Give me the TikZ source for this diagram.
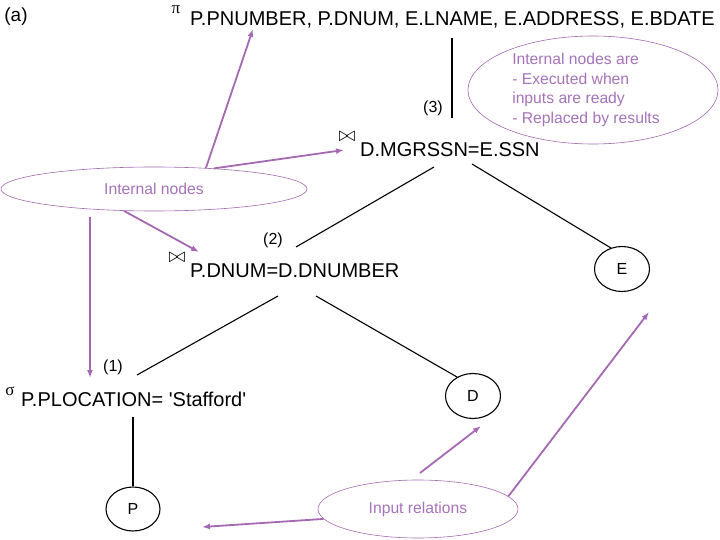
\documentclass[tikz,border=0pt]{standalone}
\usepackage{fontspec}
\setmainfont{Liberation Sans}
\newfontfamily\symfont{Liberation Serif}
\usetikzlibrary{arrows.meta,shapes.geometric}
\definecolor{vio}{RGB}{165,105,180}
\definecolor{viot}{RGB}{165,115,185}
\begin{document}
\begin{tikzpicture}[x=1pt,y=-1pt,
  optext/.style={font=\fontsize{20}{24}\selectfont, inner sep=0pt, anchor=west},
  opsym/.style={font=\symfont\fontsize{17}{20}\selectfont, inner sep=0pt},
  joinsym/.style={font=\fontsize{21}{24}\selectfont, inner sep=0pt},
  numlbl/.style={font=\fontsize{16}{18}\selectfont, inner sep=0pt},
  rel/.style={draw, ellipse, minimum width=55pt, minimum height=45pt, inner sep=0pt, line width=1.1pt, font=\fontsize{16}{18}\selectfont},
  note/.style={draw=vio, ellipse, line width=0.6pt, text=viot, inner sep=0pt, font=\fontsize{15.7}{19.5}\selectfont},
  tree/.style={line width=1.1pt},
  callout/.style={draw=vio, line width=1.8pt, -{Latex[length=8pt,width=6pt]}},
]
\path[use as bounding box] (0,0) rectangle (720,540);

% headings and operators
\node[font=\fontsize{19}{22}\selectfont, inner sep=0pt] (lbla) at (16,17) {(a)};
\node[opsym] (pisym) at (176,10) {π};
\node[optext] (proj) at (190,20) {P.PNUMBER, P.DNUM, E.LNAME, E.ADDRESS, E.BDATE};
\node[numlbl] (n3) at (433,108) {(3)};
\node[joinsym] (j1sym) at (347,137) {$\bowtie$};
\node[optext] (join1) at (360,150) {D.MGRSSN=E.SSN};
\node[numlbl] (n2) at (273,240) {(2)};
\node[joinsym] (j2sym) at (177,258) {$\bowtie$};
\node[optext] (join2) at (190,271) {P.DNUM=D.DNUMBER};
\node[numlbl] (n1) at (113,367) {(1)};
\node[opsym] (sgsym) at (10,391) {σ};
\node[optext] (sel) at (21,399) {P.PLOCATION= \textquotesingle Stafford\textquotesingle};

% relations
\node[rel] (E) at (622,269) {E};
\node[rel] (D) at (473,396) {D};
\node[rel, minimum width=54pt, minimum height=44pt] (P) at (133,509) {P};

% tree edges
\coordinate (t3a) at (452,38);
\coordinate (t3b) at (452,118);
\coordinate (j1l) at (434,167);
\coordinate (j1r) at (472,164);
\coordinate (j2top) at (296,247);
\coordinate (j2l) at (278,296);
\coordinate (j2r) at (316,296);
\coordinate (seltop) at (137,375);
\coordinate (selbot) at (133,417);
\draw[tree] (t3a) -- (t3b);
\draw[tree] (j1l) -- (j2top);
\draw[tree] (j1r) -- (E.118);
\draw[tree] (j2l) -- (seltop);
\draw[tree] (j2r) -- (D.130);
\draw[tree] (selbot) -- (P.north);

% notes
\node[note, minimum width=306pt, minimum height=44pt] (inn) at (154,189) {Internal nodes};
\node[note, minimum width=250pt, minimum height=108pt, align=left] (inb) at (593,90)
  {\hspace*{-14pt}Internal nodes are\\\hspace*{-14pt}- Executed when\\\hspace*{-14pt}inputs are ready\\\hspace*{-14pt}- Replaced by results};
\node[note, minimum width=200pt, minimum height=58pt] (inr) at (418,509) {Input relations};

% callout arrows
\coordinate (a1e) at (253,29);
\coordinate (a2e) at (344,150);
\coordinate (a3e) at (199,252);
\coordinate (a4s) at (90,217);
\coordinate (a4e) at (90,378);
\coordinate (b1s) at (420,473);
\coordinate (b1e) at (481,426);
\coordinate (b2e) at (649,312);
\coordinate (b3e) at (202,527);
\draw[callout] (inn.22) -- (a1e);
\draw[callout] (inn.19) -- (a2e);
\draw[callout] (inn.216) -- (a3e);
\draw[callout] (a4s) -- (a4e);
\draw[callout] (b1s) -- (b1e);
\draw[callout] (inr.8) -- (b2e);
\draw[callout] (inr.186) -- (b3e);
\end{tikzpicture}
\end{document}
